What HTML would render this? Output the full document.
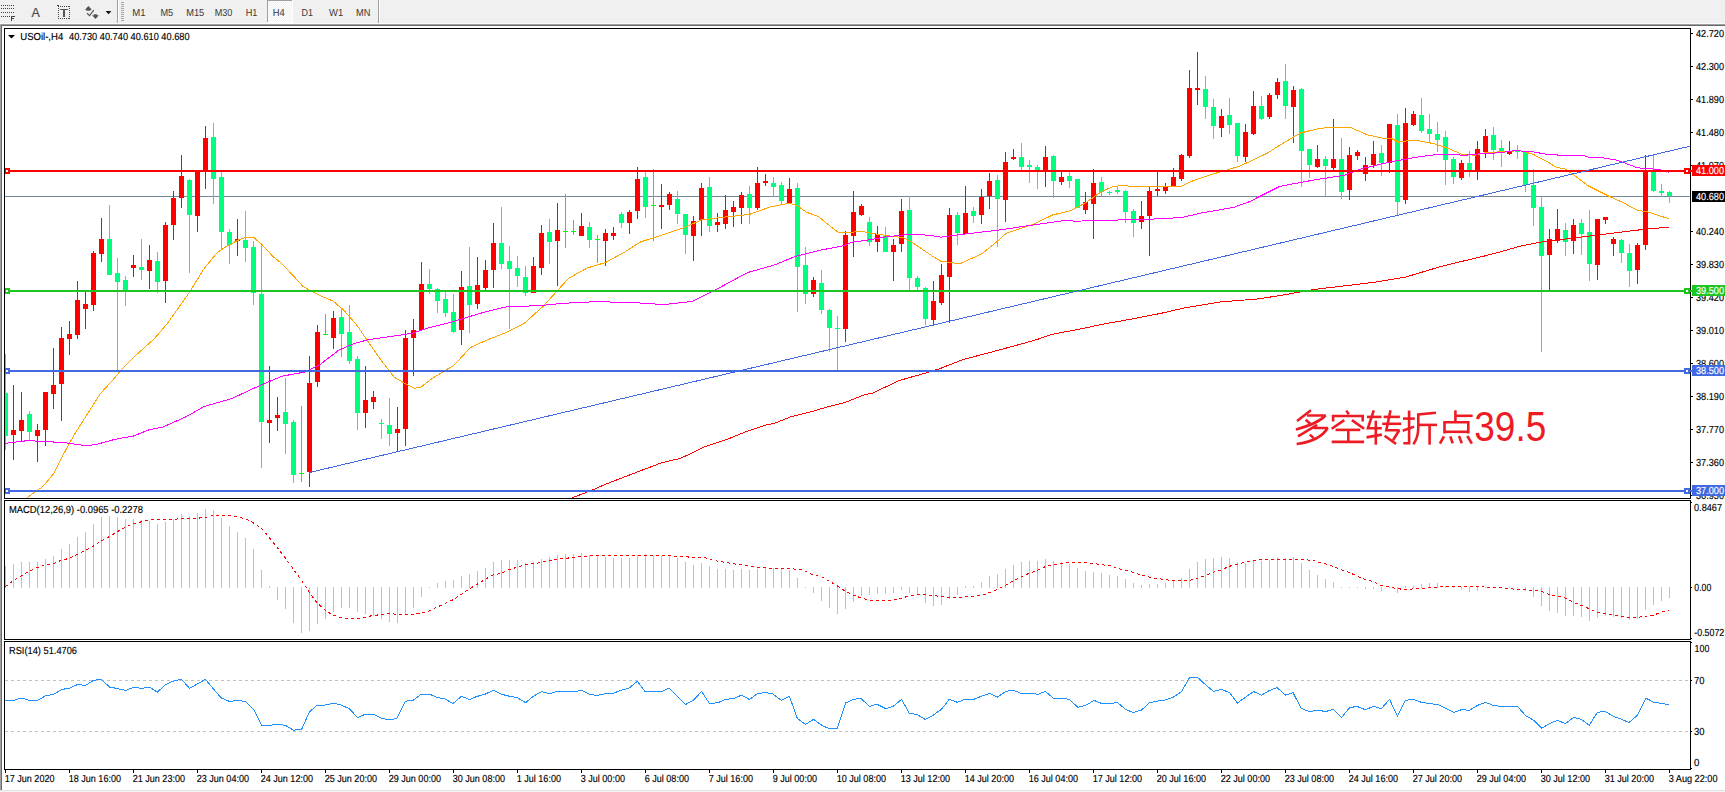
<!DOCTYPE html>
<html><head><meta charset="utf-8"><title>USOil H4</title>
<style>html,body{margin:0;padding:0;background:#fff;overflow:hidden}svg{display:block}text{font-family:"Liberation Sans",sans-serif}</style></head><body>
<svg width="1725" height="792" viewBox="0 0 1725 792">
<defs><pattern id="dz" width="2" height="2" patternUnits="userSpaceOnUse"><rect width="2" height="2" fill="#f0f0f0"/><rect width="1" height="1" fill="#fff"/><rect x="1" y="1" width="1" height="1" fill="#fff"/></pattern><clipPath id="cm"><rect x="5" y="29" width="1685" height="469"/></clipPath><clipPath id="cd"><rect x="5" y="501" width="1685" height="138"/></clipPath><clipPath id="cr"><rect x="5" y="642" width="1685" height="127"/></clipPath></defs>
<rect width="1725" height="792" fill="#fff"/>
<g shape-rendering="crispEdges">
<rect x="0" y="0" width="1725" height="23" fill="#f0f0f0"/>
<rect x="0" y="23" width="1725" height="1" fill="#fbfbfb"/>
<rect x="0" y="24" width="1725" height="1" fill="#a0a0a0"/>
<rect x="0" y="25" width="1725" height="1" fill="#696969"/>
<rect x="0" y="24" width="1" height="766" fill="#a0a0a0"/>
<rect x="1" y="25" width="1" height="765" fill="#696969"/>
<rect x="0" y="790" width="1725" height="1" fill="#e3e3e3"/>
<rect x="0" y="791" width="1725" height="1" fill="#f4f4f4"/>
<rect x="117" y="0" width="1" height="23" fill="#a0a0a0"/>
<rect x="118" y="0" width="1" height="23" fill="#ffffff"/>
<rect x="378" y="0" width="1" height="23" fill="#a0a0a0"/>
<rect x="379" y="0" width="1" height="23" fill="#ffffff"/>
<rect x="121" y="2" width="3" height="1" fill="#a8a8a8"/>
<rect x="121" y="4" width="3" height="1" fill="#a8a8a8"/>
<rect x="121" y="6" width="3" height="1" fill="#a8a8a8"/>
<rect x="121" y="8" width="3" height="1" fill="#a8a8a8"/>
<rect x="121" y="10" width="3" height="1" fill="#a8a8a8"/>
<rect x="121" y="12" width="3" height="1" fill="#a8a8a8"/>
<rect x="121" y="14" width="3" height="1" fill="#a8a8a8"/>
<rect x="121" y="16" width="3" height="1" fill="#a8a8a8"/>
<rect x="121" y="18" width="3" height="1" fill="#a8a8a8"/>
<rect x="121" y="20" width="3" height="1" fill="#a8a8a8"/>
<rect x="268" y="1" width="24" height="21" fill="url(#dz)"/>
<rect x="267" y="0" width="25" height="1" fill="#a0a0a0"/>
<rect x="267" y="0" width="1" height="22" fill="#a0a0a0"/>
<rect x="292" y="0" width="1" height="23" fill="#ffffff"/>
<rect x="267" y="22" width="26" height="1" fill="#ffffff"/>
</g>
<text x="132.2" y="16" font-size="10.2" fill="#3a3a3a" text-rendering="geometricPrecision" textLength="13.3" lengthAdjust="spacingAndGlyphs">M1</text>
<text x="160.4" y="16" font-size="10.2" fill="#3a3a3a" text-rendering="geometricPrecision" textLength="12.8" lengthAdjust="spacingAndGlyphs">M5</text>
<text x="186.2" y="16" font-size="10.2" fill="#3a3a3a" text-rendering="geometricPrecision" textLength="18.0" lengthAdjust="spacingAndGlyphs">M15</text>
<text x="214.7" y="16" font-size="10.2" fill="#3a3a3a" text-rendering="geometricPrecision" textLength="17.7" lengthAdjust="spacingAndGlyphs">M30</text>
<text x="245.7" y="16" font-size="10.2" fill="#3a3a3a" text-rendering="geometricPrecision" textLength="11.7" lengthAdjust="spacingAndGlyphs">H1</text>
<text x="272.8" y="16" font-size="10.2" fill="#3a3a3a" text-rendering="geometricPrecision" textLength="12.0" lengthAdjust="spacingAndGlyphs">H4</text>
<text x="301.6" y="16" font-size="10.2" fill="#3a3a3a" text-rendering="geometricPrecision" textLength="11.4" lengthAdjust="spacingAndGlyphs">D1</text>
<text x="329.1" y="16" font-size="10.2" fill="#3a3a3a" text-rendering="geometricPrecision" textLength="14.1" lengthAdjust="spacingAndGlyphs">W1</text>
<text x="356" y="16" font-size="10.2" fill="#3a3a3a" text-rendering="geometricPrecision" textLength="14.4" lengthAdjust="spacingAndGlyphs">MN</text>
<g shape-rendering="crispEdges">
<rect x="1" y="5" width="1" height="1" fill="#444"/>
<rect x="3" y="5" width="1" height="1" fill="#444"/>
<rect x="5" y="5" width="1" height="1" fill="#444"/>
<rect x="7" y="5" width="1" height="1" fill="#444"/>
<rect x="9" y="5" width="1" height="1" fill="#444"/>
<rect x="11" y="5" width="1" height="1" fill="#444"/>
<rect x="13" y="5" width="1" height="1" fill="#444"/>
<rect x="1" y="8" width="1" height="1" fill="#444"/>
<rect x="3" y="8" width="1" height="1" fill="#444"/>
<rect x="5" y="8" width="1" height="1" fill="#444"/>
<rect x="7" y="8" width="1" height="1" fill="#444"/>
<rect x="9" y="8" width="1" height="1" fill="#444"/>
<rect x="11" y="8" width="1" height="1" fill="#444"/>
<rect x="13" y="8" width="1" height="1" fill="#444"/>
<rect x="1" y="12" width="1" height="1" fill="#444"/>
<rect x="3" y="12" width="1" height="1" fill="#444"/>
<rect x="5" y="12" width="1" height="1" fill="#444"/>
<rect x="7" y="12" width="1" height="1" fill="#444"/>
<rect x="9" y="12" width="1" height="1" fill="#444"/>
<rect x="11" y="12" width="1" height="1" fill="#444"/>
<rect x="13" y="12" width="1" height="1" fill="#444"/>
<rect x="1" y="16" width="1" height="1" fill="#444"/>
<rect x="3" y="16" width="1" height="1" fill="#444"/>
<rect x="5" y="16" width="1" height="1" fill="#444"/>
<rect x="7" y="16" width="1" height="1" fill="#444"/>
<rect x="9" y="16" width="1" height="1" fill="#444"/>
<rect x="11" y="16" width="1" height="5" fill="#444"/>
<rect x="12" y="16" width="3" height="1" fill="#444"/>
<rect x="12" y="18" width="2" height="1" fill="#444"/>
</g>
<text x="31.4" y="17" font-size="12.5" fill="#4a4a4a" stroke="#4a4a4a" stroke-width="0.2">A</text>
<g shape-rendering="crispEdges">
<rect x="58" y="6" width="1" height="1" fill="#444"/>
<rect x="58" y="18" width="1" height="1" fill="#444"/>
<rect x="60" y="6" width="1" height="1" fill="#444"/>
<rect x="60" y="18" width="1" height="1" fill="#444"/>
<rect x="62" y="6" width="1" height="1" fill="#444"/>
<rect x="62" y="18" width="1" height="1" fill="#444"/>
<rect x="64" y="6" width="1" height="1" fill="#444"/>
<rect x="64" y="18" width="1" height="1" fill="#444"/>
<rect x="66" y="6" width="1" height="1" fill="#444"/>
<rect x="66" y="18" width="1" height="1" fill="#444"/>
<rect x="68" y="6" width="1" height="1" fill="#444"/>
<rect x="68" y="18" width="1" height="1" fill="#444"/>
<rect x="58" y="6" width="1" height="1" fill="#444"/>
<rect x="69" y="6" width="1" height="1" fill="#444"/>
<rect x="58" y="8" width="1" height="1" fill="#444"/>
<rect x="69" y="8" width="1" height="1" fill="#444"/>
<rect x="58" y="10" width="1" height="1" fill="#444"/>
<rect x="69" y="10" width="1" height="1" fill="#444"/>
<rect x="58" y="12" width="1" height="1" fill="#444"/>
<rect x="69" y="12" width="1" height="1" fill="#444"/>
<rect x="58" y="14" width="1" height="1" fill="#444"/>
<rect x="69" y="14" width="1" height="1" fill="#444"/>
<rect x="58" y="16" width="1" height="1" fill="#444"/>
<rect x="69" y="16" width="1" height="1" fill="#444"/>
<rect x="58" y="18" width="1" height="1" fill="#444"/>
<rect x="69" y="18" width="1" height="1" fill="#444"/>
<rect x="57" y="5" width="2" height="1" fill="#444"/>
<rect x="60" y="9" width="8" height="1" fill="#555"/>
<rect x="63" y="9" width="2" height="8" fill="#555"/>
</g>
<path d="M84.9 9.7 L88.4 6 L91.9 9.7 L90.5 9.7 L90.5 10.7 L86.3 10.7 L86.3 9.7 Z M92 15.2 L93.9 15.2 L93.9 14.2 L97 14.2 L97 15.2 L98.9 15.2 L95.5 18.9 Z" fill="#555"/>
<path d="M87.1 13.2 L89.6 15.6 L93.8 10.1" fill="none" stroke="#555" stroke-width="1.2"/>
<path d="M105.6 11 L111.4 11 L108.5 14.2 Z" fill="#111"/>
<g clip-path="url(#cm)" shape-rendering="crispEdges">
<rect x="5" y="196" width="1685" height="1" fill="#778899"/>
<rect x="5" y="354" width="1" height="96" fill="#00FF7F"/>
<rect x="3" y="393" width="5" height="43" fill="#00FF7F"/>
<rect x="13" y="385" width="1" height="75" fill="#FF0000"/>
<rect x="11" y="430" width="5" height="5" fill="#FF0000"/>
<rect x="21" y="392" width="1" height="49" fill="#FF0000"/>
<rect x="19" y="420" width="5" height="11" fill="#FF0000"/>
<rect x="29" y="411" width="1" height="29" fill="#00FF7F"/>
<rect x="27" y="414" width="5" height="18" fill="#00FF7F"/>
<rect x="37" y="424" width="1" height="38" fill="#FF0000"/>
<rect x="35" y="430" width="5" height="6" fill="#FF0000"/>
<rect x="45" y="392" width="1" height="54" fill="#FF0000"/>
<rect x="43" y="392" width="5" height="38" fill="#FF0000"/>
<rect x="53" y="348" width="1" height="61" fill="#FF0000"/>
<rect x="51" y="385" width="5" height="9" fill="#FF0000"/>
<rect x="61" y="327" width="1" height="94" fill="#FF0000"/>
<rect x="59" y="338" width="5" height="46" fill="#FF0000"/>
<rect x="69" y="321" width="1" height="34" fill="#FF0000"/>
<rect x="67" y="334" width="5" height="5" fill="#FF0000"/>
<rect x="77" y="281" width="1" height="58" fill="#FF0000"/>
<rect x="75" y="300" width="5" height="35" fill="#FF0000"/>
<rect x="85" y="292" width="1" height="37" fill="#FF0000"/>
<rect x="83" y="304" width="5" height="5" fill="#FF0000"/>
<rect x="93" y="251" width="1" height="60" fill="#FF0000"/>
<rect x="91" y="253" width="5" height="52" fill="#FF0000"/>
<rect x="101" y="218" width="1" height="44" fill="#FF0000"/>
<rect x="99" y="239" width="5" height="15" fill="#FF0000"/>
<rect x="109" y="205" width="1" height="70" fill="#00FF7F"/>
<rect x="107" y="239" width="5" height="36" fill="#00FF7F"/>
<rect x="117" y="258" width="1" height="112" fill="#00FF7F"/>
<rect x="115" y="273" width="5" height="9" fill="#00FF7F"/>
<rect x="125" y="276" width="1" height="30" fill="#00FF7F"/>
<rect x="123" y="280" width="5" height="10" fill="#00FF7F"/>
<rect x="133" y="255" width="1" height="22" fill="#FF0000"/>
<rect x="131" y="265" width="5" height="3" fill="#FF0000"/>
<rect x="141" y="239" width="1" height="41" fill="#00FF7F"/>
<rect x="139" y="267" width="5" height="3" fill="#00FF7F"/>
<rect x="149" y="245" width="1" height="44" fill="#FF0000"/>
<rect x="147" y="260" width="5" height="11" fill="#FF0000"/>
<rect x="157" y="252" width="1" height="41" fill="#00FF7F"/>
<rect x="155" y="261" width="5" height="21" fill="#00FF7F"/>
<rect x="165" y="222" width="1" height="81" fill="#FF0000"/>
<rect x="163" y="225" width="5" height="56" fill="#FF0000"/>
<rect x="173" y="191" width="1" height="49" fill="#FF0000"/>
<rect x="171" y="198" width="5" height="27" fill="#FF0000"/>
<rect x="181" y="155" width="1" height="53" fill="#FF0000"/>
<rect x="179" y="176" width="5" height="22" fill="#FF0000"/>
<rect x="189" y="179" width="1" height="94" fill="#00FF7F"/>
<rect x="187" y="180" width="5" height="35" fill="#00FF7F"/>
<rect x="197" y="171" width="1" height="61" fill="#FF0000"/>
<rect x="195" y="171" width="5" height="45" fill="#FF0000"/>
<rect x="205" y="126" width="1" height="63" fill="#FF0000"/>
<rect x="203" y="138" width="5" height="33" fill="#FF0000"/>
<rect x="213" y="123" width="1" height="81" fill="#00FF7F"/>
<rect x="211" y="137" width="5" height="42" fill="#00FF7F"/>
<rect x="221" y="172" width="1" height="77" fill="#00FF7F"/>
<rect x="219" y="177" width="5" height="55" fill="#00FF7F"/>
<rect x="229" y="229" width="1" height="35" fill="#00FF7F"/>
<rect x="227" y="232" width="5" height="13" fill="#00FF7F"/>
<rect x="237" y="219" width="1" height="37" fill="#FF0000"/>
<rect x="235" y="239" width="5" height="2" fill="#FF0000"/>
<rect x="245" y="211" width="1" height="51" fill="#00FF7F"/>
<rect x="243" y="240" width="5" height="8" fill="#00FF7F"/>
<rect x="253" y="241" width="1" height="64" fill="#00FF7F"/>
<rect x="251" y="247" width="5" height="46" fill="#00FF7F"/>
<rect x="261" y="243" width="1" height="225" fill="#00FF7F"/>
<rect x="259" y="294" width="5" height="128" fill="#00FF7F"/>
<rect x="269" y="366" width="1" height="77" fill="#FF0000"/>
<rect x="267" y="420" width="5" height="3" fill="#FF0000"/>
<rect x="277" y="397" width="1" height="34" fill="#FF0000"/>
<rect x="275" y="415" width="5" height="3" fill="#FF0000"/>
<rect x="285" y="378" width="1" height="76" fill="#00FF7F"/>
<rect x="283" y="412" width="5" height="12" fill="#00FF7F"/>
<rect x="293" y="420" width="1" height="63" fill="#00FF7F"/>
<rect x="291" y="422" width="5" height="53" fill="#00FF7F"/>
<rect x="301" y="406" width="1" height="76" fill="#00FF00"/>
<rect x="299" y="473" width="5" height="1" fill="#00FF00"/>
<rect x="309" y="356" width="1" height="131" fill="#FF0000"/>
<rect x="307" y="383" width="5" height="89" fill="#FF0000"/>
<rect x="317" y="325" width="1" height="62" fill="#FF0000"/>
<rect x="315" y="332" width="5" height="50" fill="#FF0000"/>
<rect x="325" y="314" width="1" height="20" fill="#00FF00"/>
<rect x="323" y="334" width="5" height="1" fill="#00FF00"/>
<rect x="333" y="311" width="1" height="38" fill="#FF0000"/>
<rect x="331" y="318" width="5" height="20" fill="#FF0000"/>
<rect x="341" y="309" width="1" height="48" fill="#00FF7F"/>
<rect x="339" y="317" width="5" height="17" fill="#00FF7F"/>
<rect x="349" y="305" width="1" height="59" fill="#00FF7F"/>
<rect x="347" y="332" width="5" height="29" fill="#00FF7F"/>
<rect x="357" y="356" width="1" height="74" fill="#00FF7F"/>
<rect x="355" y="359" width="5" height="54" fill="#00FF7F"/>
<rect x="365" y="366" width="1" height="62" fill="#FF0000"/>
<rect x="363" y="400" width="5" height="13" fill="#FF0000"/>
<rect x="373" y="391" width="1" height="18" fill="#FF0000"/>
<rect x="371" y="397" width="5" height="5" fill="#FF0000"/>
<rect x="381" y="419" width="1" height="20" fill="#00FF7F"/>
<rect x="379" y="423" width="5" height="1" fill="#00FF7F"/>
<rect x="389" y="398" width="1" height="48" fill="#00FF7F"/>
<rect x="387" y="425" width="5" height="9" fill="#00FF7F"/>
<rect x="397" y="407" width="1" height="44" fill="#FF0000"/>
<rect x="395" y="429" width="5" height="4" fill="#FF0000"/>
<rect x="405" y="330" width="1" height="116" fill="#FF0000"/>
<rect x="403" y="338" width="5" height="91" fill="#FF0000"/>
<rect x="413" y="319" width="1" height="57" fill="#FF0000"/>
<rect x="411" y="330" width="5" height="8" fill="#FF0000"/>
<rect x="421" y="262" width="1" height="68" fill="#FF0000"/>
<rect x="419" y="284" width="5" height="46" fill="#FF0000"/>
<rect x="429" y="269" width="1" height="25" fill="#00FF7F"/>
<rect x="427" y="284" width="5" height="5" fill="#00FF7F"/>
<rect x="437" y="288" width="1" height="25" fill="#00FF7F"/>
<rect x="435" y="289" width="5" height="12" fill="#00FF7F"/>
<rect x="445" y="292" width="1" height="25" fill="#00FF7F"/>
<rect x="443" y="299" width="5" height="14" fill="#00FF7F"/>
<rect x="453" y="294" width="1" height="39" fill="#00FF7F"/>
<rect x="451" y="312" width="5" height="20" fill="#00FF7F"/>
<rect x="461" y="271" width="1" height="74" fill="#FF0000"/>
<rect x="459" y="287" width="5" height="43" fill="#FF0000"/>
<rect x="469" y="247" width="1" height="86" fill="#00FF7F"/>
<rect x="467" y="286" width="5" height="19" fill="#00FF7F"/>
<rect x="477" y="257" width="1" height="52" fill="#FF0000"/>
<rect x="475" y="285" width="5" height="19" fill="#FF0000"/>
<rect x="485" y="260" width="1" height="30" fill="#FF0000"/>
<rect x="483" y="270" width="5" height="18" fill="#FF0000"/>
<rect x="493" y="223" width="1" height="65" fill="#FF0000"/>
<rect x="491" y="243" width="5" height="27" fill="#FF0000"/>
<rect x="501" y="207" width="1" height="62" fill="#00FF7F"/>
<rect x="499" y="243" width="5" height="21" fill="#00FF7F"/>
<rect x="509" y="246" width="1" height="83" fill="#00FF7F"/>
<rect x="507" y="261" width="5" height="8" fill="#00FF7F"/>
<rect x="517" y="256" width="1" height="31" fill="#00FF7F"/>
<rect x="515" y="268" width="5" height="8" fill="#00FF7F"/>
<rect x="525" y="266" width="1" height="30" fill="#00FF7F"/>
<rect x="523" y="277" width="5" height="16" fill="#00FF7F"/>
<rect x="533" y="257" width="1" height="36" fill="#FF0000"/>
<rect x="531" y="266" width="5" height="27" fill="#FF0000"/>
<rect x="541" y="225" width="1" height="50" fill="#FF0000"/>
<rect x="539" y="233" width="5" height="35" fill="#FF0000"/>
<rect x="549" y="219" width="1" height="45" fill="#00FF7F"/>
<rect x="547" y="232" width="5" height="10" fill="#00FF7F"/>
<rect x="557" y="203" width="1" height="83" fill="#FF0000"/>
<rect x="555" y="230" width="5" height="11" fill="#FF0000"/>
<rect x="565" y="194" width="1" height="54" fill="#00FF00"/>
<rect x="563" y="231" width="5" height="1" fill="#00FF00"/>
<rect x="573" y="220" width="1" height="15" fill="#00FF00"/>
<rect x="571" y="231" width="5" height="1" fill="#00FF00"/>
<rect x="581" y="213" width="1" height="23" fill="#FF0000"/>
<rect x="579" y="226" width="5" height="10" fill="#FF0000"/>
<rect x="589" y="222" width="1" height="26" fill="#00FF7F"/>
<rect x="587" y="227" width="5" height="13" fill="#00FF7F"/>
<rect x="597" y="235" width="1" height="28" fill="#00FF00"/>
<rect x="595" y="239" width="5" height="1" fill="#00FF00"/>
<rect x="605" y="229" width="1" height="37" fill="#FF0000"/>
<rect x="603" y="233" width="5" height="8" fill="#FF0000"/>
<rect x="613" y="227" width="1" height="13" fill="#FF0000"/>
<rect x="611" y="233" width="5" height="3" fill="#FF0000"/>
<rect x="621" y="212" width="1" height="16" fill="#00FF7F"/>
<rect x="619" y="214" width="5" height="9" fill="#00FF7F"/>
<rect x="629" y="210" width="1" height="24" fill="#FF0000"/>
<rect x="627" y="212" width="5" height="11" fill="#FF0000"/>
<rect x="637" y="167" width="1" height="52" fill="#FF0000"/>
<rect x="635" y="179" width="5" height="32" fill="#FF0000"/>
<rect x="645" y="172" width="1" height="46" fill="#00FF7F"/>
<rect x="643" y="177" width="5" height="30" fill="#00FF7F"/>
<rect x="653" y="169" width="1" height="72" fill="#00FF00"/>
<rect x="651" y="205" width="5" height="1" fill="#00FF00"/>
<rect x="661" y="184" width="1" height="45" fill="#FF0000"/>
<rect x="659" y="205" width="5" height="2" fill="#FF0000"/>
<rect x="669" y="192" width="1" height="18" fill="#FF0000"/>
<rect x="667" y="194" width="5" height="11" fill="#FF0000"/>
<rect x="677" y="191" width="1" height="33" fill="#00FF7F"/>
<rect x="675" y="199" width="5" height="15" fill="#00FF7F"/>
<rect x="685" y="214" width="1" height="40" fill="#00FF7F"/>
<rect x="683" y="214" width="5" height="21" fill="#00FF7F"/>
<rect x="693" y="216" width="1" height="45" fill="#FF0000"/>
<rect x="691" y="221" width="5" height="15" fill="#FF0000"/>
<rect x="701" y="183" width="1" height="53" fill="#FF0000"/>
<rect x="699" y="188" width="5" height="32" fill="#FF0000"/>
<rect x="709" y="177" width="1" height="55" fill="#00FF7F"/>
<rect x="707" y="187" width="5" height="39" fill="#00FF7F"/>
<rect x="717" y="213" width="1" height="19" fill="#FF0000"/>
<rect x="715" y="222" width="5" height="3" fill="#FF0000"/>
<rect x="725" y="195" width="1" height="34" fill="#FF0000"/>
<rect x="723" y="210" width="5" height="14" fill="#FF0000"/>
<rect x="733" y="201" width="1" height="26" fill="#FF0000"/>
<rect x="731" y="207" width="5" height="5" fill="#FF0000"/>
<rect x="741" y="192" width="1" height="32" fill="#FF0000"/>
<rect x="739" y="195" width="5" height="13" fill="#FF0000"/>
<rect x="749" y="186" width="1" height="38" fill="#00FF7F"/>
<rect x="747" y="194" width="5" height="14" fill="#00FF7F"/>
<rect x="757" y="167" width="1" height="43" fill="#FF0000"/>
<rect x="755" y="183" width="5" height="25" fill="#FF0000"/>
<rect x="765" y="174" width="1" height="12" fill="#FF0000"/>
<rect x="763" y="181" width="5" height="2" fill="#FF0000"/>
<rect x="773" y="177" width="1" height="20" fill="#00FF7F"/>
<rect x="771" y="183" width="5" height="4" fill="#00FF7F"/>
<rect x="781" y="182" width="1" height="22" fill="#00FF7F"/>
<rect x="779" y="185" width="5" height="16" fill="#00FF7F"/>
<rect x="789" y="178" width="1" height="25" fill="#FF0000"/>
<rect x="787" y="189" width="5" height="14" fill="#FF0000"/>
<rect x="797" y="183" width="1" height="129" fill="#00FF7F"/>
<rect x="795" y="188" width="5" height="79" fill="#00FF7F"/>
<rect x="805" y="247" width="1" height="57" fill="#00FF7F"/>
<rect x="803" y="265" width="5" height="29" fill="#00FF7F"/>
<rect x="813" y="277" width="1" height="20" fill="#FF0000"/>
<rect x="811" y="280" width="5" height="14" fill="#FF0000"/>
<rect x="821" y="270" width="1" height="44" fill="#00FF7F"/>
<rect x="819" y="283" width="5" height="27" fill="#00FF7F"/>
<rect x="829" y="309" width="1" height="43" fill="#00FF7F"/>
<rect x="827" y="310" width="5" height="18" fill="#00FF7F"/>
<rect x="837" y="316" width="1" height="54" fill="#00FF7F"/>
<rect x="835" y="328" width="5" height="1" fill="#00FF7F"/>
<rect x="845" y="231" width="1" height="111" fill="#FF0000"/>
<rect x="843" y="235" width="5" height="94" fill="#FF0000"/>
<rect x="853" y="191" width="1" height="66" fill="#FF0000"/>
<rect x="851" y="212" width="5" height="24" fill="#FF0000"/>
<rect x="861" y="204" width="1" height="12" fill="#FF0000"/>
<rect x="859" y="206" width="5" height="9" fill="#FF0000"/>
<rect x="869" y="217" width="1" height="29" fill="#00FF7F"/>
<rect x="867" y="222" width="5" height="20" fill="#00FF7F"/>
<rect x="877" y="226" width="1" height="26" fill="#FF0000"/>
<rect x="875" y="234" width="5" height="8" fill="#FF0000"/>
<rect x="885" y="227" width="1" height="25" fill="#00FF7F"/>
<rect x="883" y="236" width="5" height="16" fill="#00FF7F"/>
<rect x="893" y="239" width="1" height="42" fill="#FF0000"/>
<rect x="891" y="245" width="5" height="7" fill="#FF0000"/>
<rect x="901" y="199" width="1" height="53" fill="#FF0000"/>
<rect x="899" y="211" width="5" height="33" fill="#FF0000"/>
<rect x="909" y="196" width="1" height="94" fill="#00FF7F"/>
<rect x="907" y="210" width="5" height="68" fill="#00FF7F"/>
<rect x="917" y="276" width="1" height="14" fill="#00FF7F"/>
<rect x="915" y="278" width="5" height="9" fill="#00FF7F"/>
<rect x="925" y="287" width="1" height="38" fill="#00FF7F"/>
<rect x="923" y="288" width="5" height="31" fill="#00FF7F"/>
<rect x="933" y="281" width="1" height="45" fill="#FF0000"/>
<rect x="931" y="301" width="5" height="19" fill="#FF0000"/>
<rect x="941" y="264" width="1" height="41" fill="#FF0000"/>
<rect x="939" y="275" width="5" height="28" fill="#FF0000"/>
<rect x="949" y="208" width="1" height="115" fill="#FF0000"/>
<rect x="947" y="215" width="5" height="62" fill="#FF0000"/>
<rect x="957" y="212" width="1" height="33" fill="#00FF7F"/>
<rect x="955" y="215" width="5" height="18" fill="#00FF7F"/>
<rect x="965" y="186" width="1" height="48" fill="#FF0000"/>
<rect x="963" y="213" width="5" height="21" fill="#FF0000"/>
<rect x="973" y="207" width="1" height="16" fill="#00FF7F"/>
<rect x="971" y="211" width="5" height="5" fill="#00FF7F"/>
<rect x="981" y="189" width="1" height="35" fill="#FF0000"/>
<rect x="979" y="197" width="5" height="18" fill="#FF0000"/>
<rect x="989" y="173" width="1" height="36" fill="#FF0000"/>
<rect x="987" y="181" width="5" height="15" fill="#FF0000"/>
<rect x="997" y="175" width="1" height="72" fill="#00FF7F"/>
<rect x="995" y="180" width="5" height="19" fill="#00FF7F"/>
<rect x="1005" y="152" width="1" height="70" fill="#FF0000"/>
<rect x="1003" y="162" width="5" height="38" fill="#FF0000"/>
<rect x="1013" y="149" width="1" height="11" fill="#FF0000"/>
<rect x="1011" y="157" width="5" height="2" fill="#FF0000"/>
<rect x="1021" y="143" width="1" height="27" fill="#00FF7F"/>
<rect x="1019" y="157" width="5" height="10" fill="#00FF7F"/>
<rect x="1029" y="160" width="1" height="23" fill="#00FF7F"/>
<rect x="1027" y="165" width="5" height="2" fill="#00FF7F"/>
<rect x="1037" y="165" width="1" height="24" fill="#00FF7F"/>
<rect x="1035" y="167" width="5" height="4" fill="#00FF7F"/>
<rect x="1045" y="146" width="1" height="41" fill="#FF0000"/>
<rect x="1043" y="157" width="5" height="14" fill="#FF0000"/>
<rect x="1053" y="155" width="1" height="43" fill="#00FF7F"/>
<rect x="1051" y="156" width="5" height="25" fill="#00FF7F"/>
<rect x="1061" y="172" width="1" height="13" fill="#FF0000"/>
<rect x="1059" y="177" width="5" height="5" fill="#FF0000"/>
<rect x="1069" y="172" width="1" height="16" fill="#00FF7F"/>
<rect x="1067" y="176" width="5" height="5" fill="#00FF7F"/>
<rect x="1077" y="179" width="1" height="29" fill="#00FF7F"/>
<rect x="1075" y="179" width="5" height="29" fill="#00FF7F"/>
<rect x="1085" y="192" width="1" height="22" fill="#FF0000"/>
<rect x="1083" y="202" width="5" height="8" fill="#FF0000"/>
<rect x="1093" y="169" width="1" height="70" fill="#FF0000"/>
<rect x="1091" y="183" width="5" height="21" fill="#FF0000"/>
<rect x="1101" y="177" width="1" height="19" fill="#00FF7F"/>
<rect x="1099" y="182" width="5" height="10" fill="#00FF7F"/>
<rect x="1109" y="191" width="1" height="4" fill="#00FF7F"/>
<rect x="1107" y="192" width="5" height="1" fill="#00FF7F"/>
<rect x="1117" y="187" width="1" height="7" fill="#00FF7F"/>
<rect x="1115" y="190" width="5" height="2" fill="#00FF7F"/>
<rect x="1125" y="190" width="1" height="33" fill="#00FF7F"/>
<rect x="1123" y="191" width="5" height="21" fill="#00FF7F"/>
<rect x="1133" y="209" width="1" height="28" fill="#00FF7F"/>
<rect x="1131" y="211" width="5" height="12" fill="#00FF7F"/>
<rect x="1141" y="201" width="1" height="28" fill="#FF0000"/>
<rect x="1139" y="216" width="5" height="6" fill="#FF0000"/>
<rect x="1149" y="187" width="1" height="69" fill="#FF0000"/>
<rect x="1147" y="191" width="5" height="25" fill="#FF0000"/>
<rect x="1157" y="171" width="1" height="25" fill="#FF0000"/>
<rect x="1155" y="189" width="5" height="2" fill="#FF0000"/>
<rect x="1165" y="183" width="1" height="11" fill="#FF0000"/>
<rect x="1163" y="187" width="5" height="4" fill="#FF0000"/>
<rect x="1173" y="168" width="1" height="19" fill="#FF0000"/>
<rect x="1171" y="177" width="5" height="10" fill="#FF0000"/>
<rect x="1181" y="154" width="1" height="27" fill="#FF0000"/>
<rect x="1179" y="155" width="5" height="24" fill="#FF0000"/>
<rect x="1189" y="70" width="1" height="88" fill="#FF0000"/>
<rect x="1187" y="88" width="5" height="68" fill="#FF0000"/>
<rect x="1197" y="52" width="1" height="53" fill="#FF0000"/>
<rect x="1195" y="88" width="5" height="2" fill="#FF0000"/>
<rect x="1205" y="76" width="1" height="43" fill="#00FF7F"/>
<rect x="1203" y="89" width="5" height="18" fill="#00FF7F"/>
<rect x="1213" y="99" width="1" height="40" fill="#00FF7F"/>
<rect x="1211" y="107" width="5" height="19" fill="#00FF7F"/>
<rect x="1221" y="109" width="1" height="28" fill="#FF0000"/>
<rect x="1219" y="116" width="5" height="12" fill="#FF0000"/>
<rect x="1229" y="98" width="1" height="36" fill="#00FF7F"/>
<rect x="1227" y="115" width="5" height="10" fill="#00FF7F"/>
<rect x="1237" y="123" width="1" height="39" fill="#00FF7F"/>
<rect x="1235" y="123" width="5" height="33" fill="#00FF7F"/>
<rect x="1245" y="124" width="1" height="38" fill="#FF0000"/>
<rect x="1243" y="132" width="5" height="25" fill="#FF0000"/>
<rect x="1253" y="91" width="1" height="44" fill="#FF0000"/>
<rect x="1251" y="106" width="5" height="28" fill="#FF0000"/>
<rect x="1261" y="96" width="1" height="24" fill="#00FF7F"/>
<rect x="1259" y="106" width="5" height="13" fill="#00FF7F"/>
<rect x="1269" y="93" width="1" height="26" fill="#FF0000"/>
<rect x="1267" y="95" width="5" height="22" fill="#FF0000"/>
<rect x="1277" y="78" width="1" height="21" fill="#FF0000"/>
<rect x="1275" y="82" width="5" height="13" fill="#FF0000"/>
<rect x="1285" y="64" width="1" height="55" fill="#00FF7F"/>
<rect x="1283" y="81" width="5" height="25" fill="#00FF7F"/>
<rect x="1293" y="86" width="1" height="57" fill="#FF0000"/>
<rect x="1291" y="90" width="5" height="17" fill="#FF0000"/>
<rect x="1301" y="88" width="1" height="99" fill="#00FF7F"/>
<rect x="1299" y="89" width="5" height="62" fill="#00FF7F"/>
<rect x="1309" y="149" width="1" height="29" fill="#00FF7F"/>
<rect x="1307" y="149" width="5" height="16" fill="#00FF7F"/>
<rect x="1317" y="145" width="1" height="23" fill="#FF0000"/>
<rect x="1315" y="159" width="5" height="8" fill="#FF0000"/>
<rect x="1325" y="156" width="1" height="40" fill="#00FF7F"/>
<rect x="1323" y="159" width="5" height="7" fill="#00FF7F"/>
<rect x="1333" y="119" width="1" height="51" fill="#FF0000"/>
<rect x="1331" y="159" width="5" height="9" fill="#FF0000"/>
<rect x="1341" y="138" width="1" height="61" fill="#00FF7F"/>
<rect x="1339" y="159" width="5" height="33" fill="#00FF7F"/>
<rect x="1349" y="147" width="1" height="53" fill="#FF0000"/>
<rect x="1347" y="155" width="5" height="35" fill="#FF0000"/>
<rect x="1357" y="150" width="1" height="10" fill="#FF0000"/>
<rect x="1355" y="152" width="5" height="4" fill="#FF0000"/>
<rect x="1365" y="157" width="1" height="24" fill="#FF0000"/>
<rect x="1363" y="165" width="5" height="9" fill="#FF0000"/>
<rect x="1373" y="141" width="1" height="27" fill="#FF0000"/>
<rect x="1371" y="154" width="5" height="11" fill="#FF0000"/>
<rect x="1381" y="145" width="1" height="31" fill="#00FF7F"/>
<rect x="1379" y="153" width="5" height="10" fill="#00FF7F"/>
<rect x="1389" y="124" width="1" height="49" fill="#FF0000"/>
<rect x="1387" y="124" width="5" height="39" fill="#FF0000"/>
<rect x="1397" y="114" width="1" height="101" fill="#00FF7F"/>
<rect x="1395" y="125" width="5" height="77" fill="#00FF7F"/>
<rect x="1405" y="108" width="1" height="96" fill="#FF0000"/>
<rect x="1403" y="123" width="5" height="77" fill="#FF0000"/>
<rect x="1413" y="111" width="1" height="15" fill="#FF0000"/>
<rect x="1411" y="114" width="5" height="11" fill="#FF0000"/>
<rect x="1421" y="98" width="1" height="35" fill="#00FF7F"/>
<rect x="1419" y="115" width="5" height="16" fill="#00FF7F"/>
<rect x="1429" y="114" width="1" height="28" fill="#00FF7F"/>
<rect x="1427" y="129" width="5" height="5" fill="#00FF7F"/>
<rect x="1437" y="122" width="1" height="30" fill="#00FF7F"/>
<rect x="1435" y="134" width="5" height="6" fill="#00FF7F"/>
<rect x="1445" y="131" width="1" height="54" fill="#00FF7F"/>
<rect x="1443" y="137" width="5" height="23" fill="#00FF7F"/>
<rect x="1453" y="157" width="1" height="27" fill="#00FF7F"/>
<rect x="1451" y="159" width="5" height="18" fill="#00FF7F"/>
<rect x="1461" y="160" width="1" height="20" fill="#FF0000"/>
<rect x="1459" y="163" width="5" height="15" fill="#FF0000"/>
<rect x="1469" y="151" width="1" height="26" fill="#00FF7F"/>
<rect x="1467" y="163" width="5" height="8" fill="#00FF7F"/>
<rect x="1477" y="141" width="1" height="39" fill="#FF0000"/>
<rect x="1475" y="149" width="5" height="22" fill="#FF0000"/>
<rect x="1485" y="129" width="1" height="29" fill="#FF0000"/>
<rect x="1483" y="136" width="5" height="16" fill="#FF0000"/>
<rect x="1493" y="127" width="1" height="33" fill="#00FF7F"/>
<rect x="1491" y="135" width="5" height="15" fill="#00FF7F"/>
<rect x="1501" y="140" width="1" height="27" fill="#00FF7F"/>
<rect x="1499" y="148" width="5" height="4" fill="#00FF7F"/>
<rect x="1509" y="141" width="1" height="14" fill="#FF0000"/>
<rect x="1507" y="151" width="5" height="3" fill="#FF0000"/>
<rect x="1517" y="145" width="1" height="14" fill="#00FF7F"/>
<rect x="1515" y="150" width="5" height="2" fill="#00FF7F"/>
<rect x="1525" y="151" width="1" height="41" fill="#00FF7F"/>
<rect x="1523" y="152" width="5" height="33" fill="#00FF7F"/>
<rect x="1533" y="169" width="1" height="57" fill="#00FF7F"/>
<rect x="1531" y="185" width="5" height="23" fill="#00FF7F"/>
<rect x="1541" y="197" width="1" height="155" fill="#00FF7F"/>
<rect x="1539" y="207" width="5" height="49" fill="#00FF7F"/>
<rect x="1549" y="229" width="1" height="61" fill="#FF0000"/>
<rect x="1547" y="239" width="5" height="16" fill="#FF0000"/>
<rect x="1557" y="209" width="1" height="34" fill="#FF0000"/>
<rect x="1555" y="229" width="5" height="12" fill="#FF0000"/>
<rect x="1565" y="223" width="1" height="33" fill="#00FF7F"/>
<rect x="1563" y="230" width="5" height="12" fill="#00FF7F"/>
<rect x="1573" y="219" width="1" height="35" fill="#FF0000"/>
<rect x="1571" y="225" width="5" height="16" fill="#FF0000"/>
<rect x="1581" y="219" width="1" height="36" fill="#00FF7F"/>
<rect x="1579" y="223" width="5" height="11" fill="#00FF7F"/>
<rect x="1589" y="210" width="1" height="71" fill="#00FF7F"/>
<rect x="1587" y="232" width="5" height="32" fill="#00FF7F"/>
<rect x="1597" y="219" width="1" height="61" fill="#FF0000"/>
<rect x="1595" y="219" width="5" height="46" fill="#FF0000"/>
<rect x="1605" y="217" width="1" height="7" fill="#FF0000"/>
<rect x="1603" y="217" width="5" height="3" fill="#FF0000"/>
<rect x="1613" y="237" width="1" height="19" fill="#FF0000"/>
<rect x="1611" y="239" width="5" height="5" fill="#FF0000"/>
<rect x="1621" y="239" width="1" height="24" fill="#00FF7F"/>
<rect x="1619" y="240" width="5" height="13" fill="#00FF7F"/>
<rect x="1629" y="244" width="1" height="43" fill="#00FF7F"/>
<rect x="1627" y="253" width="5" height="18" fill="#00FF7F"/>
<rect x="1637" y="243" width="1" height="41" fill="#FF0000"/>
<rect x="1635" y="245" width="5" height="25" fill="#FF0000"/>
<rect x="1645" y="155" width="1" height="95" fill="#FF0000"/>
<rect x="1643" y="170" width="5" height="75" fill="#FF0000"/>
<rect x="1653" y="154" width="1" height="38" fill="#00FF7F"/>
<rect x="1651" y="170" width="5" height="21" fill="#00FF7F"/>
<rect x="1661" y="184" width="1" height="13" fill="#00FF7F"/>
<rect x="1659" y="191" width="5" height="2" fill="#00FF7F"/>
<rect x="1669" y="191" width="1" height="12" fill="#00FF7F"/>
<rect x="1667" y="192" width="5" height="4" fill="#00FF7F"/>
<polyline points="26.9,497.8 42.7,486.6 53.8,473.6 64.0,453.2 74.2,434.7 87.2,414.3 100.2,393.8 111.4,381.6 121.6,369.6 135.5,355.6 154.0,339.0 167.0,324.0 189.3,292.5 204.2,268.4 217.2,252.6 228.3,245.2 239.4,239.6 246.9,237.2 253.4,237.2 261.7,244.3 272.8,256.3 282.0,263.8 295.0,277.7 302.6,286.0 311.8,291.6 320.0,295.6 333.0,301.0 344.0,310.4 357.0,325.3 368.3,342.0 381.3,360.5 394.2,377.2 405.4,383.7 414.7,388.4 421.2,386.9 431.4,379.0 446.2,369.8 453.6,365.7 470.3,347.5 487.0,340.0 505.6,332.7 524.2,323.4 537.2,311.6 542.7,306.7 555.7,292.5 568.7,278.2 587.3,268.0 605.8,262.4 624.4,252.2 640.0,242.2 662.3,234.8 684.5,227.4 701.3,220.0 723.5,217.2 749.5,214.4 770.0,207.0 788.5,203.3 796.0,205.0 807.0,212.5 818.2,216.3 829.3,225.5 837.7,232.0 846.0,233.0 860.9,231.1 870.2,233.0 886.9,235.7 903.6,237.6 914.7,244.1 929.6,254.3 940.7,261.2 951.8,262.7 960.0,263.7 982.3,253.5 997.1,241.5 1006.4,233.1 1019.4,229.0 1034.2,223.8 1052.8,214.9 1071.4,210.5 1086.2,202.5 1101.0,191.9 1112.2,187.0 1123.3,185.2 1130.8,186.6 1180.9,186.6 1192.0,181.2 1206.9,175.9 1219.9,172.0 1238.4,166.6 1253.3,160.0 1268.1,152.7 1280.0,145.0 1300.4,133.0 1317.1,128.9 1332.0,127.0 1349.6,127.0 1367.2,134.8 1383.9,138.5 1391.4,138.5 1398.8,142.2 1409.9,140.4 1419.2,140.8 1434.1,143.7 1447.0,147.8 1461.9,154.3 1474.9,155.2 1486.0,152.4 1502.7,151.8 1519.6,150.6 1532.6,154.1 1545.7,160.7 1556.1,167.2 1565.2,169.1 1573.0,174.3 1588.7,186.1 1610.9,197.2 1623.9,203.0 1637.0,210.2 1647.4,211.9 1656.5,214.8 1669.0,218.7" fill="none" stroke="#FFA500" stroke-width="1" />
<polyline points="5.0,443.4 27.8,440.6 48.3,441.7 65.0,442.7 83.5,445.3 94.7,444.9 115.0,439.3 133.6,436.0 148.5,430.0 163.3,426.9 185.6,417.0 204.2,406.5 232.0,398.5 259.9,385.5 282.0,376.2 304.4,372.1 320.0,364.6 338.6,350.3 353.4,343.8 368.3,339.7 398.0,335.5 412.8,333.0 427.7,328.0 450.0,322.5 468.5,316.9 487.0,311.4 505.6,307.0 542.7,305.4 561.3,303.4 589.0,302.0 607.7,301.2 611.4,302.5 640.0,303.0 664.0,304.6 692.0,301.4 718.0,288.5 747.7,272.5 773.6,265.3 795.9,256.2 818.2,250.6 844.2,245.6 851.6,242.2 868.3,240.0 886.9,236.7 909.1,234.4 929.6,235.2 940.7,237.2 960.0,234.6 997.1,230.3 1034.2,224.8 1067.7,220.0 1075.0,221.4 1090.0,220.5 1136.3,219.7 1164.2,218.6 1182.7,217.3 1201.3,213.0 1219.9,209.9 1234.7,207.0 1249.6,201.6 1264.4,194.0 1280.0,186.3 1317.1,179.4 1343.1,175.6 1363.5,168.2 1391.4,161.7 1417.4,157.1 1437.8,154.3 1465.6,155.2 1484.2,153.4 1500.0,152.8 1513.0,150.9 1528.7,151.1 1545.7,154.1 1562.6,155.4 1583.5,155.4 1588.7,157.4 1601.7,157.7 1617.4,160.3 1637.0,167.6 1647.4,168.9 1657.8,169.1 1669.0,172.4" fill="none" stroke="#FF00FF" stroke-width="1" />
<polyline points="572.1,497.8 591.5,490.4 606.4,483.9 637.9,471.8 662.0,462.6 678.7,458.8 689.9,454.2 704.7,446.8 727.0,439.4 745.5,431.9 764.1,425.5 775.2,423.0 790.0,417.1 812.3,411.5 825.3,407.5 845.7,402.3 864.3,394.8 872.0,393.3 899.9,380.3 929.6,371.9 940.0,368.6 963.7,359.3 983.1,354.3 1015.1,345.7 1037.4,339.4 1051.3,334.5 1079.1,329.2 1107.0,323.4 1134.8,318.5 1162.6,313.0 1182.7,308.3 1219.9,302.0 1257.0,299.0 1280.0,295.6 1313.4,289.5 1345.0,285.8 1376.5,282.0 1406.2,276.9 1443.3,265.8 1484.2,256.1 1500.0,251.9 1519.6,246.3 1539.1,242.4 1565.2,239.1 1591.3,235.9 1617.4,232.6 1643.5,229.4 1669.0,227.1" fill="none" stroke="#FF0000" stroke-width="1" />
</g>
<g shape-rendering="crispEdges">
<rect x="5" y="170" width="1685" height="2" fill="#FF0000"/>
<rect x="4" y="168" width="6" height="6" fill="#FF0000"/>
<rect x="6" y="170" width="2" height="2" fill="#fff"/>
<rect x="1684" y="168" width="6" height="6" fill="#FF0000"/>
<rect x="1686" y="170" width="2" height="2" fill="#fff"/>
<rect x="5" y="290" width="1685" height="2" fill="#1FC51F"/>
<rect x="4" y="288" width="6" height="6" fill="#1FC51F"/>
<rect x="6" y="290" width="2" height="2" fill="#fff"/>
<rect x="1684" y="288" width="6" height="6" fill="#1FC51F"/>
<rect x="1686" y="290" width="2" height="2" fill="#fff"/>
<rect x="5" y="370" width="1685" height="2" fill="#4169E1"/>
<rect x="4" y="368" width="6" height="6" fill="#4169E1"/>
<rect x="6" y="370" width="2" height="2" fill="#fff"/>
<rect x="1684" y="368" width="6" height="6" fill="#4169E1"/>
<rect x="1686" y="370" width="2" height="2" fill="#fff"/>
<rect x="5" y="490" width="1685" height="2" fill="#4169E1"/>
<rect x="4" y="488" width="6" height="6" fill="#4169E1"/>
<rect x="6" y="490" width="2" height="2" fill="#fff"/>
<rect x="1684" y="488" width="6" height="6" fill="#4169E1"/>
<rect x="1686" y="490" width="2" height="2" fill="#fff"/>
<line x1="309.5" y1="472.5" x2="1690" y2="146.2" stroke="#4169E1" stroke-width="1"/>
<rect x="4" y="28" width="1687" height="1" fill="#000"/>
<rect x="4" y="498" width="1687" height="1" fill="#000"/>
<rect x="4" y="28" width="1" height="471" fill="#000"/>
<rect x="1690" y="28" width="1" height="471" fill="#000"/>
<rect x="4" y="500" width="1687" height="1" fill="#000"/>
<rect x="4" y="639" width="1687" height="1" fill="#000"/>
<rect x="4" y="500" width="1" height="140" fill="#000"/>
<rect x="1690" y="500" width="1" height="140" fill="#000"/>
<rect x="4" y="641" width="1687" height="1" fill="#000"/>
<rect x="4" y="769" width="1687" height="1" fill="#000"/>
<rect x="4" y="641" width="1" height="129" fill="#000"/>
<rect x="1690" y="641" width="1" height="129" fill="#000"/>
<rect x="1690" y="170" width="2" height="2" fill="#FF0000"/>
<rect x="1690" y="290" width="2" height="2" fill="#1FC51F"/>
<rect x="1690" y="370" width="2" height="2" fill="#4169E1"/>
<rect x="1690" y="490" width="2" height="2" fill="#4169E1"/>
</g>
<g clip-path="url(#cd)" shape-rendering="crispEdges">
<rect x="5" y="566" width="1" height="22" fill="#c0c0c0"/>
<rect x="13" y="564" width="1" height="24" fill="#c0c0c0"/>
<rect x="21" y="562" width="1" height="26" fill="#c0c0c0"/>
<rect x="29" y="562" width="1" height="26" fill="#c0c0c0"/>
<rect x="37" y="562" width="1" height="26" fill="#c0c0c0"/>
<rect x="45" y="559" width="1" height="29" fill="#c0c0c0"/>
<rect x="53" y="556" width="1" height="32" fill="#c0c0c0"/>
<rect x="61" y="549" width="1" height="39" fill="#c0c0c0"/>
<rect x="69" y="544" width="1" height="44" fill="#c0c0c0"/>
<rect x="77" y="537" width="1" height="51" fill="#c0c0c0"/>
<rect x="85" y="532" width="1" height="56" fill="#c0c0c0"/>
<rect x="93" y="524" width="1" height="64" fill="#c0c0c0"/>
<rect x="101" y="517" width="1" height="71" fill="#c0c0c0"/>
<rect x="109" y="516" width="1" height="72" fill="#c0c0c0"/>
<rect x="117" y="517" width="1" height="71" fill="#c0c0c0"/>
<rect x="125" y="519" width="1" height="69" fill="#c0c0c0"/>
<rect x="133" y="519" width="1" height="69" fill="#c0c0c0"/>
<rect x="141" y="520" width="1" height="68" fill="#c0c0c0"/>
<rect x="149" y="521" width="1" height="67" fill="#c0c0c0"/>
<rect x="157" y="524" width="1" height="64" fill="#c0c0c0"/>
<rect x="165" y="522" width="1" height="66" fill="#c0c0c0"/>
<rect x="173" y="519" width="1" height="69" fill="#c0c0c0"/>
<rect x="181" y="514" width="1" height="74" fill="#c0c0c0"/>
<rect x="189" y="516" width="1" height="72" fill="#c0c0c0"/>
<rect x="197" y="513" width="1" height="75" fill="#c0c0c0"/>
<rect x="205" y="509" width="1" height="79" fill="#c0c0c0"/>
<rect x="213" y="510" width="1" height="78" fill="#c0c0c0"/>
<rect x="221" y="518" width="1" height="70" fill="#c0c0c0"/>
<rect x="229" y="526" width="1" height="62" fill="#c0c0c0"/>
<rect x="237" y="532" width="1" height="56" fill="#c0c0c0"/>
<rect x="245" y="538" width="1" height="50" fill="#c0c0c0"/>
<rect x="253" y="549" width="1" height="39" fill="#c0c0c0"/>
<rect x="261" y="570" width="1" height="18" fill="#c0c0c0"/>
<rect x="269" y="586" width="1" height="2" fill="#c0c0c0"/>
<rect x="277" y="587" width="1" height="13" fill="#c0c0c0"/>
<rect x="285" y="587" width="1" height="22" fill="#c0c0c0"/>
<rect x="293" y="587" width="1" height="36" fill="#c0c0c0"/>
<rect x="301" y="587" width="1" height="46" fill="#c0c0c0"/>
<rect x="309" y="587" width="1" height="44" fill="#c0c0c0"/>
<rect x="317" y="587" width="1" height="37" fill="#c0c0c0"/>
<rect x="325" y="587" width="1" height="32" fill="#c0c0c0"/>
<rect x="333" y="587" width="1" height="25" fill="#c0c0c0"/>
<rect x="341" y="587" width="1" height="21" fill="#c0c0c0"/>
<rect x="349" y="587" width="1" height="21" fill="#c0c0c0"/>
<rect x="357" y="587" width="1" height="25" fill="#c0c0c0"/>
<rect x="365" y="587" width="1" height="27" fill="#c0c0c0"/>
<rect x="373" y="587" width="1" height="29" fill="#c0c0c0"/>
<rect x="381" y="587" width="1" height="32" fill="#c0c0c0"/>
<rect x="389" y="587" width="1" height="35" fill="#c0c0c0"/>
<rect x="397" y="587" width="1" height="36" fill="#c0c0c0"/>
<rect x="405" y="587" width="1" height="28" fill="#c0c0c0"/>
<rect x="413" y="587" width="1" height="21" fill="#c0c0c0"/>
<rect x="421" y="587" width="1" height="10" fill="#c0c0c0"/>
<rect x="429" y="587" width="1" height="1" fill="#c0c0c0"/>
<rect x="437" y="583" width="1" height="5" fill="#c0c0c0"/>
<rect x="445" y="581" width="1" height="7" fill="#c0c0c0"/>
<rect x="453" y="580" width="1" height="8" fill="#c0c0c0"/>
<rect x="461" y="576" width="1" height="12" fill="#c0c0c0"/>
<rect x="469" y="574" width="1" height="14" fill="#c0c0c0"/>
<rect x="477" y="571" width="1" height="17" fill="#c0c0c0"/>
<rect x="485" y="568" width="1" height="20" fill="#c0c0c0"/>
<rect x="493" y="562" width="1" height="26" fill="#c0c0c0"/>
<rect x="501" y="560" width="1" height="28" fill="#c0c0c0"/>
<rect x="509" y="560" width="1" height="28" fill="#c0c0c0"/>
<rect x="517" y="560" width="1" height="28" fill="#c0c0c0"/>
<rect x="525" y="563" width="1" height="25" fill="#c0c0c0"/>
<rect x="533" y="562" width="1" height="26" fill="#c0c0c0"/>
<rect x="541" y="559" width="1" height="29" fill="#c0c0c0"/>
<rect x="549" y="557" width="1" height="31" fill="#c0c0c0"/>
<rect x="557" y="555" width="1" height="33" fill="#c0c0c0"/>
<rect x="565" y="554" width="1" height="34" fill="#c0c0c0"/>
<rect x="573" y="554" width="1" height="34" fill="#c0c0c0"/>
<rect x="581" y="553" width="1" height="35" fill="#c0c0c0"/>
<rect x="589" y="555" width="1" height="33" fill="#c0c0c0"/>
<rect x="597" y="556" width="1" height="32" fill="#c0c0c0"/>
<rect x="605" y="557" width="1" height="31" fill="#c0c0c0"/>
<rect x="613" y="558" width="1" height="30" fill="#c0c0c0"/>
<rect x="621" y="558" width="1" height="30" fill="#c0c0c0"/>
<rect x="629" y="558" width="1" height="30" fill="#c0c0c0"/>
<rect x="637" y="555" width="1" height="33" fill="#c0c0c0"/>
<rect x="645" y="554" width="1" height="34" fill="#c0c0c0"/>
<rect x="653" y="556" width="1" height="32" fill="#c0c0c0"/>
<rect x="661" y="556" width="1" height="32" fill="#c0c0c0"/>
<rect x="669" y="556" width="1" height="32" fill="#c0c0c0"/>
<rect x="677" y="558" width="1" height="30" fill="#c0c0c0"/>
<rect x="685" y="562" width="1" height="26" fill="#c0c0c0"/>
<rect x="693" y="565" width="1" height="23" fill="#c0c0c0"/>
<rect x="701" y="563" width="1" height="25" fill="#c0c0c0"/>
<rect x="709" y="566" width="1" height="22" fill="#c0c0c0"/>
<rect x="717" y="569" width="1" height="19" fill="#c0c0c0"/>
<rect x="725" y="569" width="1" height="19" fill="#c0c0c0"/>
<rect x="733" y="570" width="1" height="18" fill="#c0c0c0"/>
<rect x="741" y="569" width="1" height="19" fill="#c0c0c0"/>
<rect x="749" y="570" width="1" height="18" fill="#c0c0c0"/>
<rect x="757" y="569" width="1" height="19" fill="#c0c0c0"/>
<rect x="765" y="568" width="1" height="20" fill="#c0c0c0"/>
<rect x="773" y="568" width="1" height="20" fill="#c0c0c0"/>
<rect x="781" y="568" width="1" height="20" fill="#c0c0c0"/>
<rect x="789" y="570" width="1" height="18" fill="#c0c0c0"/>
<rect x="797" y="578" width="1" height="10" fill="#c0c0c0"/>
<rect x="805" y="587" width="1" height="1" fill="#c0c0c0"/>
<rect x="813" y="587" width="1" height="6" fill="#c0c0c0"/>
<rect x="821" y="587" width="1" height="14" fill="#c0c0c0"/>
<rect x="829" y="587" width="1" height="21" fill="#c0c0c0"/>
<rect x="837" y="587" width="1" height="27" fill="#c0c0c0"/>
<rect x="845" y="587" width="1" height="22" fill="#c0c0c0"/>
<rect x="853" y="587" width="1" height="15" fill="#c0c0c0"/>
<rect x="861" y="587" width="1" height="9" fill="#c0c0c0"/>
<rect x="869" y="587" width="1" height="8" fill="#c0c0c0"/>
<rect x="877" y="587" width="1" height="7" fill="#c0c0c0"/>
<rect x="885" y="587" width="1" height="7" fill="#c0c0c0"/>
<rect x="893" y="587" width="1" height="6" fill="#c0c0c0"/>
<rect x="901" y="587" width="1" height="3" fill="#c0c0c0"/>
<rect x="909" y="587" width="1" height="6" fill="#c0c0c0"/>
<rect x="917" y="587" width="1" height="8" fill="#c0c0c0"/>
<rect x="925" y="587" width="1" height="16" fill="#c0c0c0"/>
<rect x="933" y="587" width="1" height="19" fill="#c0c0c0"/>
<rect x="941" y="587" width="1" height="18" fill="#c0c0c0"/>
<rect x="949" y="587" width="1" height="12" fill="#c0c0c0"/>
<rect x="957" y="587" width="1" height="8" fill="#c0c0c0"/>
<rect x="965" y="586" width="1" height="2" fill="#c0c0c0"/>
<rect x="973" y="586" width="1" height="2" fill="#c0c0c0"/>
<rect x="981" y="582" width="1" height="6" fill="#c0c0c0"/>
<rect x="989" y="576" width="1" height="12" fill="#c0c0c0"/>
<rect x="997" y="574" width="1" height="14" fill="#c0c0c0"/>
<rect x="1005" y="569" width="1" height="19" fill="#c0c0c0"/>
<rect x="1013" y="565" width="1" height="23" fill="#c0c0c0"/>
<rect x="1021" y="562" width="1" height="26" fill="#c0c0c0"/>
<rect x="1029" y="561" width="1" height="27" fill="#c0c0c0"/>
<rect x="1037" y="561" width="1" height="27" fill="#c0c0c0"/>
<rect x="1045" y="559" width="1" height="29" fill="#c0c0c0"/>
<rect x="1053" y="561" width="1" height="27" fill="#c0c0c0"/>
<rect x="1061" y="562" width="1" height="26" fill="#c0c0c0"/>
<rect x="1069" y="564" width="1" height="24" fill="#c0c0c0"/>
<rect x="1077" y="568" width="1" height="20" fill="#c0c0c0"/>
<rect x="1085" y="571" width="1" height="17" fill="#c0c0c0"/>
<rect x="1093" y="572" width="1" height="16" fill="#c0c0c0"/>
<rect x="1101" y="573" width="1" height="15" fill="#c0c0c0"/>
<rect x="1109" y="575" width="1" height="13" fill="#c0c0c0"/>
<rect x="1117" y="576" width="1" height="12" fill="#c0c0c0"/>
<rect x="1125" y="579" width="1" height="9" fill="#c0c0c0"/>
<rect x="1133" y="583" width="1" height="5" fill="#c0c0c0"/>
<rect x="1141" y="585" width="1" height="3" fill="#c0c0c0"/>
<rect x="1149" y="584" width="1" height="4" fill="#c0c0c0"/>
<rect x="1157" y="584" width="1" height="4" fill="#c0c0c0"/>
<rect x="1165" y="583" width="1" height="5" fill="#c0c0c0"/>
<rect x="1173" y="581" width="1" height="7" fill="#c0c0c0"/>
<rect x="1181" y="578" width="1" height="10" fill="#c0c0c0"/>
<rect x="1189" y="569" width="1" height="19" fill="#c0c0c0"/>
<rect x="1197" y="562" width="1" height="26" fill="#c0c0c0"/>
<rect x="1205" y="559" width="1" height="29" fill="#c0c0c0"/>
<rect x="1213" y="558" width="1" height="30" fill="#c0c0c0"/>
<rect x="1221" y="557" width="1" height="31" fill="#c0c0c0"/>
<rect x="1229" y="558" width="1" height="30" fill="#c0c0c0"/>
<rect x="1237" y="562" width="1" height="26" fill="#c0c0c0"/>
<rect x="1245" y="563" width="1" height="25" fill="#c0c0c0"/>
<rect x="1253" y="561" width="1" height="27" fill="#c0c0c0"/>
<rect x="1261" y="561" width="1" height="27" fill="#c0c0c0"/>
<rect x="1269" y="560" width="1" height="28" fill="#c0c0c0"/>
<rect x="1277" y="557" width="1" height="31" fill="#c0c0c0"/>
<rect x="1285" y="558" width="1" height="30" fill="#c0c0c0"/>
<rect x="1293" y="557" width="1" height="31" fill="#c0c0c0"/>
<rect x="1301" y="563" width="1" height="25" fill="#c0c0c0"/>
<rect x="1309" y="570" width="1" height="18" fill="#c0c0c0"/>
<rect x="1317" y="575" width="1" height="13" fill="#c0c0c0"/>
<rect x="1325" y="579" width="1" height="9" fill="#c0c0c0"/>
<rect x="1333" y="582" width="1" height="6" fill="#c0c0c0"/>
<rect x="1341" y="587" width="1" height="1" fill="#c0c0c0"/>
<rect x="1349" y="587" width="1" height="1" fill="#c0c0c0"/>
<rect x="1357" y="587" width="1" height="1" fill="#c0c0c0"/>
<rect x="1365" y="587" width="1" height="2" fill="#c0c0c0"/>
<rect x="1373" y="587" width="1" height="2" fill="#c0c0c0"/>
<rect x="1381" y="587" width="1" height="4" fill="#c0c0c0"/>
<rect x="1389" y="587" width="1" height="1" fill="#c0c0c0"/>
<rect x="1397" y="587" width="1" height="6" fill="#c0c0c0"/>
<rect x="1405" y="586" width="1" height="2" fill="#c0c0c0"/>
<rect x="1413" y="586" width="1" height="2" fill="#c0c0c0"/>
<rect x="1421" y="584" width="1" height="4" fill="#c0c0c0"/>
<rect x="1429" y="583" width="1" height="5" fill="#c0c0c0"/>
<rect x="1437" y="583" width="1" height="5" fill="#c0c0c0"/>
<rect x="1445" y="586" width="1" height="2" fill="#c0c0c0"/>
<rect x="1453" y="587" width="1" height="1" fill="#c0c0c0"/>
<rect x="1461" y="587" width="1" height="3" fill="#c0c0c0"/>
<rect x="1469" y="587" width="1" height="5" fill="#c0c0c0"/>
<rect x="1477" y="587" width="1" height="4" fill="#c0c0c0"/>
<rect x="1485" y="587" width="1" height="1" fill="#c0c0c0"/>
<rect x="1493" y="587" width="1" height="1" fill="#c0c0c0"/>
<rect x="1501" y="587" width="1" height="1" fill="#c0c0c0"/>
<rect x="1509" y="587" width="1" height="1" fill="#c0c0c0"/>
<rect x="1517" y="587" width="1" height="1" fill="#c0c0c0"/>
<rect x="1525" y="587" width="1" height="4" fill="#c0c0c0"/>
<rect x="1533" y="587" width="1" height="10" fill="#c0c0c0"/>
<rect x="1541" y="587" width="1" height="19" fill="#c0c0c0"/>
<rect x="1549" y="587" width="1" height="24" fill="#c0c0c0"/>
<rect x="1557" y="587" width="1" height="26" fill="#c0c0c0"/>
<rect x="1565" y="587" width="1" height="29" fill="#c0c0c0"/>
<rect x="1573" y="587" width="1" height="29" fill="#c0c0c0"/>
<rect x="1581" y="587" width="1" height="30" fill="#c0c0c0"/>
<rect x="1589" y="587" width="1" height="34" fill="#c0c0c0"/>
<rect x="1597" y="587" width="1" height="31" fill="#c0c0c0"/>
<rect x="1605" y="587" width="1" height="29" fill="#c0c0c0"/>
<rect x="1613" y="587" width="1" height="30" fill="#c0c0c0"/>
<rect x="1621" y="587" width="1" height="31" fill="#c0c0c0"/>
<rect x="1629" y="587" width="1" height="33" fill="#c0c0c0"/>
<rect x="1637" y="587" width="1" height="32" fill="#c0c0c0"/>
<rect x="1645" y="587" width="1" height="23" fill="#c0c0c0"/>
<rect x="1653" y="587" width="1" height="18" fill="#c0c0c0"/>
<rect x="1661" y="587" width="1" height="14" fill="#c0c0c0"/>
<rect x="1669" y="587" width="1" height="11" fill="#c0c0c0"/>
<polyline points="5.0,586.8 13.0,581.0 21.0,576.0 29.0,571.4 37.0,567.7 45.0,564.9 53.0,564.0 61.0,560.3 69.0,558.4 77.0,554.7 85.0,550.5 93.0,546.4 101.0,541.2 109.0,536.7 117.0,531.9 125.0,527.3 133.0,523.7 141.0,521.9 149.0,520.0 157.0,519.5 165.0,519.5 173.0,519.5 181.0,518.5 189.0,518.5 197.0,518.2 205.0,517.6 213.0,515.4 221.0,515.4 229.0,515.4 237.0,517.1 245.0,518.5 253.0,522.6 261.0,527.8 269.0,537.1 277.0,547.3 285.0,557.5 293.0,568.6 301.0,579.8 309.0,591.8 317.0,603.0 325.0,609.8 330.2,613.5 336.7,616.5 341.0,617.6 349.0,618.4 357.0,618.4 365.0,617.3 373.0,615.4 381.0,614.7 389.0,613.2 397.0,614.5 405.0,614.5 413.0,614.5 421.0,613.2 429.0,610.9 437.0,607.2 445.0,603.5 453.0,599.8 461.0,594.6 469.0,589.1 477.0,584.4 485.0,579.4 493.0,575.1 501.0,573.3 509.0,569.6 517.0,567.3 525.0,564.9 533.0,563.6 541.0,562.7 549.0,560.3 557.0,559.4 565.0,558.4 573.0,557.5 581.0,556.0 589.0,556.0 597.0,555.3 605.0,555.3 637.0,555.3 684.5,556.2 691.0,557.5 705.0,557.5 709.0,559.4 721.6,561.8 732.8,563.6 749.5,566.2 758.7,567.7 773.6,568.3 799.6,569.2 805.1,571.0 812.5,574.6 821.8,577.0 829.2,581.0 836.9,585.7 844.8,590.9 852.8,595.0 860.8,597.8 868.8,600.2 876.9,600.4 892.9,600.4 900.9,598.3 908.8,596.1 916.8,594.6 924.8,594.6 932.8,595.5 940.8,596.5 948.9,597.4 960.0,597.2 973.0,596.5 984.1,594.6 997.0,589.6 1005.0,585.7 1013.0,581.0 1021.0,577.0 1029.0,573.3 1037.0,570.5 1045.0,566.8 1053.0,564.9 1061.0,563.5 1069.0,562.7 1086.2,562.5 1097.3,564.0 1112.2,566.2 1117.7,568.6 1127.0,570.5 1134.4,572.9 1141.8,575.1 1153.0,577.9 1164.1,579.4 1172.8,580.7 1190.0,580.3 1197.0,578.3 1205.0,575.7 1213.0,572.4 1221.0,570.1 1229.0,566.4 1237.0,564.4 1245.0,562.2 1253.0,560.3 1261.0,559.4 1304.0,559.4 1313.4,560.7 1326.4,564.0 1333.0,566.4 1341.0,569.6 1349.0,572.4 1357.0,576.1 1365.0,579.4 1373.0,581.6 1381.0,585.3 1389.0,586.8 1397.0,588.7 1405.0,589.4 1421.0,588.5 1437.0,587.2 1445.0,586.3 1480.4,586.3 1485.0,587.2 1501.0,587.8 1517.0,589.4 1525.0,589.4 1533.0,590.5 1541.0,591.0 1549.0,594.6 1557.0,595.8 1565.0,598.1 1573.0,602.2 1581.0,605.2 1589.0,608.7 1597.0,612.3 1605.0,613.7 1613.0,615.3 1621.0,616.3 1629.0,617.4 1637.0,617.4 1645.0,616.3 1653.0,615.3 1661.0,612.3 1669.0,610.5" fill="none" stroke="#FF0000" stroke-width="1" stroke-dasharray="3 3"/>
</g>
<g clip-path="url(#cr)" shape-rendering="crispEdges">
<line x1="5" y1="680.5" x2="1690" y2="680.5" stroke="#c0c0c0" stroke-dasharray="3 3"/>
<line x1="5" y1="731.5" x2="1690" y2="731.5" stroke="#c0c0c0" stroke-dasharray="3 3"/>
<polyline points="5.2,700.5 13.4,700.5 21.7,698.0 29.9,700.5 37.4,700.5 45.7,695.7 53.7,694.3 61.8,689.5 70.0,688.0 77.7,684.5 85.4,685.5 93.5,680.3 101.3,679.2 109.4,687.0 117.5,688.6 125.7,690.5 133.8,687.2 141.6,688.4 149.7,687.2 157.4,692.2 165.5,684.5 173.3,681.1 181.4,679.2 189.6,688.4 197.7,683.8 205.4,679.3 213.4,688.9 221.3,698.0 229.4,701.4 237.4,700.5 245.3,701.4 253.4,709.1 261.4,725.0 269.3,725.4 277.4,724.1 285.4,725.4 293.7,730.2 301.7,729.3 309.4,712.0 316.7,705.6 325.0,705.1 333.0,703.2 341.0,704.9 349.0,708.6 357.7,717.5 365.0,714.4 373.8,714.4 381.8,718.4 389.6,719.7 397.0,718.4 405.3,701.2 413.0,700.3 421.0,694.5 429.5,694.1 436.9,697.5 444.9,699.0 453.0,703.6 461.4,696.2 469.4,699.5 477.0,696.4 485.0,694.3 493.5,690.1 501.8,694.3 509.2,696.2 517.2,697.5 525.6,702.7 533.4,696.2 541.7,691.5 549.5,693.8 557.0,691.5 576.0,691.5 581.2,690.1 589.0,694.0 596.8,695.6 604.8,693.8 613.1,693.4 620.8,690.2 628.9,688.2 637.3,681.3 645.0,691.5 662.3,691.5 669.0,688.2 677.0,696.2 685.5,704.5 693.8,699.9 701.6,691.5 709.6,703.6 718.0,702.7 725.0,699.5 733.7,698.4 741.5,695.2 749.5,699.5 756.9,694.0 764.9,692.5 773.0,694.0 781.4,700.4 789.5,696.4 797.3,718.4 805.5,724.4 813.5,719.4 821.8,725.3 829.2,728.6 837.2,728.6 845.6,703.0 852.8,699.5 860.8,698.4 869.5,706.4 876.9,704.2 885.8,708.6 893.2,706.4 901.6,699.3 909.4,713.4 916.8,714.4 925.3,719.4 933.1,715.3 941.5,709.2 949.3,699.3 957.3,702.3 965.0,699.3 973.9,699.3 981.0,696.4 989.3,693.4 997.7,697.1 1005.5,691.5 1012.9,690.1 1021.2,693.4 1032.4,693.4 1037.9,694.3 1045.3,691.5 1053.7,698.4 1064.8,698.4 1069.5,699.5 1077.8,707.3 1086.2,705.1 1094.0,700.4 1101.9,703.6 1111.2,703.6 1117.3,702.3 1126.0,709.7 1133.5,712.5 1141.4,710.1 1149.6,702.7 1157.2,701.2 1165.6,699.9 1173.4,697.1 1181.7,691.5 1189.5,677.6 1197.5,677.3 1205.8,685.0 1213.6,691.5 1221.2,689.3 1229.4,692.5 1237.4,703.0 1245.7,697.1 1253.5,691.5 1261.5,695.2 1269.3,690.6 1276.9,687.5 1285.6,695.2 1293.0,692.5 1301.0,708.2 1309.3,711.6 1317.7,710.1 1325.5,711.6 1333.4,709.2 1341.6,717.5 1349.6,707.7 1357.0,706.4 1365.3,709.7 1373.7,706.4 1381.5,708.6 1389.5,699.3 1397.4,716.2 1405.2,700.4 1413.0,699.3 1421.4,702.3 1429.5,703.6 1437.7,704.5 1446.0,708.6 1453.8,712.5 1461.8,709.5 1469.2,710.5 1477.2,705.5 1485.6,702.3 1493.4,705.5 1500.8,706.4 1517.5,706.4 1525.8,715.7 1533.6,720.3 1541.6,728.3 1549.4,723.6 1557.4,720.3 1565.3,723.6 1573.5,717.5 1581.5,719.4 1589.3,725.3 1597.3,712.3 1605.1,711.4 1613.7,716.4 1621.4,719.2 1629.1,722.5 1637.3,715.4 1645.8,698.1 1654.0,702.4 1661.7,703.3 1669.0,704.7" fill="none" stroke="#1E90FF" stroke-width="1" />
</g>
<g shape-rendering="crispEdges">
<rect x="1691" y="33" width="2" height="1" fill="#000"/>
<rect x="1691" y="66" width="2" height="1" fill="#000"/>
<rect x="1691" y="99" width="2" height="1" fill="#000"/>
<rect x="1691" y="132" width="2" height="1" fill="#000"/>
<rect x="1691" y="165" width="2" height="1" fill="#000"/>
<rect x="1691" y="231" width="2" height="1" fill="#000"/>
<rect x="1691" y="264" width="2" height="1" fill="#000"/>
<rect x="1691" y="297" width="2" height="1" fill="#000"/>
<rect x="1691" y="330" width="2" height="1" fill="#000"/>
<rect x="1691" y="363" width="2" height="1" fill="#000"/>
<rect x="1691" y="396" width="2" height="1" fill="#000"/>
<rect x="1691" y="429" width="2" height="1" fill="#000"/>
<rect x="1691" y="462" width="2" height="1" fill="#000"/>
<rect x="1691" y="495" width="2" height="1" fill="#000"/>
<rect x="1691" y="502" width="1" height="1" fill="#000"/>
<rect x="1691" y="587" width="1" height="1" fill="#000"/>
<rect x="1691" y="638" width="1" height="1" fill="#000"/>
<rect x="1691" y="642" width="1" height="1" fill="#000"/>
<rect x="1691" y="680" width="1" height="1" fill="#000"/>
<rect x="1691" y="731" width="1" height="1" fill="#000"/>
<rect x="1691" y="768" width="1" height="1" fill="#000"/>
<rect x="5" y="770" width="1" height="3" fill="#000"/>
<rect x="69" y="770" width="1" height="3" fill="#000"/>
<rect x="133" y="770" width="1" height="3" fill="#000"/>
<rect x="197" y="770" width="1" height="3" fill="#000"/>
<rect x="261" y="770" width="1" height="3" fill="#000"/>
<rect x="325" y="770" width="1" height="3" fill="#000"/>
<rect x="389" y="770" width="1" height="3" fill="#000"/>
<rect x="453" y="770" width="1" height="3" fill="#000"/>
<rect x="517" y="770" width="1" height="3" fill="#000"/>
<rect x="581" y="770" width="1" height="3" fill="#000"/>
<rect x="645" y="770" width="1" height="3" fill="#000"/>
<rect x="709" y="770" width="1" height="3" fill="#000"/>
<rect x="773" y="770" width="1" height="3" fill="#000"/>
<rect x="837" y="770" width="1" height="3" fill="#000"/>
<rect x="901" y="770" width="1" height="3" fill="#000"/>
<rect x="965" y="770" width="1" height="3" fill="#000"/>
<rect x="1029" y="770" width="1" height="3" fill="#000"/>
<rect x="1093" y="770" width="1" height="3" fill="#000"/>
<rect x="1157" y="770" width="1" height="3" fill="#000"/>
<rect x="1221" y="770" width="1" height="3" fill="#000"/>
<rect x="1285" y="770" width="1" height="3" fill="#000"/>
<rect x="1349" y="770" width="1" height="3" fill="#000"/>
<rect x="1413" y="770" width="1" height="3" fill="#000"/>
<rect x="1477" y="770" width="1" height="3" fill="#000"/>
<rect x="1541" y="770" width="1" height="3" fill="#000"/>
<rect x="1605" y="770" width="1" height="3" fill="#000"/>
<rect x="1669" y="770" width="1" height="3" fill="#000"/>
</g>
<text x="1696" y="37" font-size="10.2" fill="#000" stroke="#000" stroke-width="0.15" text-rendering="geometricPrecision" textLength="28" lengthAdjust="spacingAndGlyphs">42.720</text>
<text x="1696" y="70" font-size="10.2" fill="#000" stroke="#000" stroke-width="0.15" text-rendering="geometricPrecision" textLength="28" lengthAdjust="spacingAndGlyphs">42.300</text>
<text x="1696" y="103" font-size="10.2" fill="#000" stroke="#000" stroke-width="0.15" text-rendering="geometricPrecision" textLength="28" lengthAdjust="spacingAndGlyphs">41.890</text>
<text x="1696" y="136" font-size="10.2" fill="#000" stroke="#000" stroke-width="0.15" text-rendering="geometricPrecision" textLength="28" lengthAdjust="spacingAndGlyphs">41.480</text>
<text x="1696" y="169" font-size="10.2" fill="#000" stroke="#000" stroke-width="0.15" text-rendering="geometricPrecision" textLength="28" lengthAdjust="spacingAndGlyphs">41.070</text>
<text x="1696" y="235" font-size="10.2" fill="#000" stroke="#000" stroke-width="0.15" text-rendering="geometricPrecision" textLength="28" lengthAdjust="spacingAndGlyphs">40.240</text>
<text x="1696" y="268" font-size="10.2" fill="#000" stroke="#000" stroke-width="0.15" text-rendering="geometricPrecision" textLength="28" lengthAdjust="spacingAndGlyphs">39.830</text>
<text x="1696" y="301" font-size="10.2" fill="#000" stroke="#000" stroke-width="0.15" text-rendering="geometricPrecision" textLength="28" lengthAdjust="spacingAndGlyphs">39.420</text>
<text x="1696" y="334" font-size="10.2" fill="#000" stroke="#000" stroke-width="0.15" text-rendering="geometricPrecision" textLength="28" lengthAdjust="spacingAndGlyphs">39.010</text>
<text x="1696" y="367" font-size="10.2" fill="#000" stroke="#000" stroke-width="0.15" text-rendering="geometricPrecision" textLength="28" lengthAdjust="spacingAndGlyphs">38.600</text>
<text x="1696" y="400" font-size="10.2" fill="#000" stroke="#000" stroke-width="0.15" text-rendering="geometricPrecision" textLength="28" lengthAdjust="spacingAndGlyphs">38.190</text>
<text x="1696" y="433" font-size="10.2" fill="#000" stroke="#000" stroke-width="0.15" text-rendering="geometricPrecision" textLength="28" lengthAdjust="spacingAndGlyphs">37.770</text>
<text x="1696" y="466" font-size="10.2" fill="#000" stroke="#000" stroke-width="0.15" text-rendering="geometricPrecision" textLength="28" lengthAdjust="spacingAndGlyphs">37.360</text>
<text x="1696" y="499" font-size="10.2" fill="#000" stroke="#000" stroke-width="0.15" text-rendering="geometricPrecision" textLength="28" lengthAdjust="spacingAndGlyphs">36.950</text>
<g shape-rendering="crispEdges">
<rect x="1692" y="165" width="33" height="11" fill="#FF0000"/>
<rect x="1692" y="191" width="33" height="11" fill="#000"/>
<rect x="1692" y="285" width="33" height="11" fill="#1FC51F"/>
<rect x="1692" y="365" width="33" height="11" fill="#4169E1"/>
<rect x="1692" y="485" width="33" height="11" fill="#4169E1"/>
</g>
<text x="1696" y="174" font-size="10.2" fill="#fff" stroke="#fff" stroke-width="0.15" text-rendering="geometricPrecision" textLength="28" lengthAdjust="spacingAndGlyphs">41.000</text>
<text x="1696" y="200" font-size="10.2" fill="#fff" stroke="#fff" stroke-width="0.15" text-rendering="geometricPrecision" textLength="28" lengthAdjust="spacingAndGlyphs">40.680</text>
<text x="1696" y="294" font-size="10.2" fill="#fff" stroke="#fff" stroke-width="0.15" text-rendering="geometricPrecision" textLength="28" lengthAdjust="spacingAndGlyphs">39.500</text>
<text x="1696" y="374" font-size="10.2" fill="#fff" stroke="#fff" stroke-width="0.15" text-rendering="geometricPrecision" textLength="28" lengthAdjust="spacingAndGlyphs">38.500</text>
<text x="1696" y="494" font-size="10.2" fill="#fff" stroke="#fff" stroke-width="0.15" text-rendering="geometricPrecision" textLength="28" lengthAdjust="spacingAndGlyphs">37.000</text>
<text x="1694" y="511" font-size="10.2" fill="#000" stroke="#000" stroke-width="0.15" text-rendering="geometricPrecision" textLength="28" lengthAdjust="spacingAndGlyphs">0.8467</text>
<text x="1694.3" y="591" font-size="10.2" fill="#000" stroke="#000" stroke-width="0.15" text-rendering="geometricPrecision" textLength="17" lengthAdjust="spacingAndGlyphs">0.00</text>
<text x="1694.3" y="636" font-size="10.2" fill="#000" stroke="#000" stroke-width="0.15" text-rendering="geometricPrecision" textLength="30" lengthAdjust="spacingAndGlyphs">-0.5072</text>
<text x="1694.6" y="652" font-size="10.2" fill="#000" stroke="#000" stroke-width="0.15" text-rendering="geometricPrecision" textLength="14.8" lengthAdjust="spacingAndGlyphs">100</text>
<text x="1694" y="684" font-size="10.2" fill="#000" stroke="#000" stroke-width="0.15" text-rendering="geometricPrecision" textLength="10.5" lengthAdjust="spacingAndGlyphs">70</text>
<text x="1694" y="735" font-size="10.2" fill="#000" stroke="#000" stroke-width="0.15" text-rendering="geometricPrecision" textLength="10.5" lengthAdjust="spacingAndGlyphs">30</text>
<text x="1694" y="766" font-size="10.2" fill="#000" stroke="#000" stroke-width="0.15" text-rendering="geometricPrecision" textLength="5.4" lengthAdjust="spacingAndGlyphs">0</text>
<text x="4.7" y="782" font-size="10.2" fill="#000" stroke="#000" stroke-width="0.15" text-rendering="geometricPrecision" textLength="49.8" lengthAdjust="spacingAndGlyphs">17 Jun 2020</text>
<text x="68.7" y="782" font-size="10.2" fill="#000" stroke="#000" stroke-width="0.15" text-rendering="geometricPrecision" textLength="52.3" lengthAdjust="spacingAndGlyphs">18 Jun 16:00</text>
<text x="132.7" y="782" font-size="10.2" fill="#000" stroke="#000" stroke-width="0.15" text-rendering="geometricPrecision" textLength="52.3" lengthAdjust="spacingAndGlyphs">21 Jun 23:00</text>
<text x="196.7" y="782" font-size="10.2" fill="#000" stroke="#000" stroke-width="0.15" text-rendering="geometricPrecision" textLength="52.3" lengthAdjust="spacingAndGlyphs">23 Jun 04:00</text>
<text x="260.7" y="782" font-size="10.2" fill="#000" stroke="#000" stroke-width="0.15" text-rendering="geometricPrecision" textLength="52.3" lengthAdjust="spacingAndGlyphs">24 Jun 12:00</text>
<text x="324.7" y="782" font-size="10.2" fill="#000" stroke="#000" stroke-width="0.15" text-rendering="geometricPrecision" textLength="52.3" lengthAdjust="spacingAndGlyphs">25 Jun 20:00</text>
<text x="388.7" y="782" font-size="10.2" fill="#000" stroke="#000" stroke-width="0.15" text-rendering="geometricPrecision" textLength="52.3" lengthAdjust="spacingAndGlyphs">29 Jun 00:00</text>
<text x="452.7" y="782" font-size="10.2" fill="#000" stroke="#000" stroke-width="0.15" text-rendering="geometricPrecision" textLength="52.3" lengthAdjust="spacingAndGlyphs">30 Jun 08:00</text>
<text x="516.7" y="782" font-size="10.2" fill="#000" stroke="#000" stroke-width="0.15" text-rendering="geometricPrecision" textLength="44.3" lengthAdjust="spacingAndGlyphs">1 Jul 16:00</text>
<text x="580.7" y="782" font-size="10.2" fill="#000" stroke="#000" stroke-width="0.15" text-rendering="geometricPrecision" textLength="44.3" lengthAdjust="spacingAndGlyphs">3 Jul 00:00</text>
<text x="644.7" y="782" font-size="10.2" fill="#000" stroke="#000" stroke-width="0.15" text-rendering="geometricPrecision" textLength="44.3" lengthAdjust="spacingAndGlyphs">6 Jul 08:00</text>
<text x="708.7" y="782" font-size="10.2" fill="#000" stroke="#000" stroke-width="0.15" text-rendering="geometricPrecision" textLength="44.3" lengthAdjust="spacingAndGlyphs">7 Jul 16:00</text>
<text x="772.7" y="782" font-size="10.2" fill="#000" stroke="#000" stroke-width="0.15" text-rendering="geometricPrecision" textLength="44.3" lengthAdjust="spacingAndGlyphs">9 Jul 00:00</text>
<text x="836.7" y="782" font-size="10.2" fill="#000" stroke="#000" stroke-width="0.15" text-rendering="geometricPrecision" textLength="49.3" lengthAdjust="spacingAndGlyphs">10 Jul 08:00</text>
<text x="900.7" y="782" font-size="10.2" fill="#000" stroke="#000" stroke-width="0.15" text-rendering="geometricPrecision" textLength="49.3" lengthAdjust="spacingAndGlyphs">13 Jul 12:00</text>
<text x="964.7" y="782" font-size="10.2" fill="#000" stroke="#000" stroke-width="0.15" text-rendering="geometricPrecision" textLength="49.3" lengthAdjust="spacingAndGlyphs">14 Jul 20:00</text>
<text x="1028.7" y="782" font-size="10.2" fill="#000" stroke="#000" stroke-width="0.15" text-rendering="geometricPrecision" textLength="49.3" lengthAdjust="spacingAndGlyphs">16 Jul 04:00</text>
<text x="1092.7" y="782" font-size="10.2" fill="#000" stroke="#000" stroke-width="0.15" text-rendering="geometricPrecision" textLength="49.3" lengthAdjust="spacingAndGlyphs">17 Jul 12:00</text>
<text x="1156.7" y="782" font-size="10.2" fill="#000" stroke="#000" stroke-width="0.15" text-rendering="geometricPrecision" textLength="49.3" lengthAdjust="spacingAndGlyphs">20 Jul 16:00</text>
<text x="1220.7" y="782" font-size="10.2" fill="#000" stroke="#000" stroke-width="0.15" text-rendering="geometricPrecision" textLength="49.3" lengthAdjust="spacingAndGlyphs">22 Jul 00:00</text>
<text x="1284.7" y="782" font-size="10.2" fill="#000" stroke="#000" stroke-width="0.15" text-rendering="geometricPrecision" textLength="49.3" lengthAdjust="spacingAndGlyphs">23 Jul 08:00</text>
<text x="1348.7" y="782" font-size="10.2" fill="#000" stroke="#000" stroke-width="0.15" text-rendering="geometricPrecision" textLength="49.3" lengthAdjust="spacingAndGlyphs">24 Jul 16:00</text>
<text x="1412.7" y="782" font-size="10.2" fill="#000" stroke="#000" stroke-width="0.15" text-rendering="geometricPrecision" textLength="49.3" lengthAdjust="spacingAndGlyphs">27 Jul 20:00</text>
<text x="1476.7" y="782" font-size="10.2" fill="#000" stroke="#000" stroke-width="0.15" text-rendering="geometricPrecision" textLength="49.3" lengthAdjust="spacingAndGlyphs">29 Jul 04:00</text>
<text x="1540.7" y="782" font-size="10.2" fill="#000" stroke="#000" stroke-width="0.15" text-rendering="geometricPrecision" textLength="49.3" lengthAdjust="spacingAndGlyphs">30 Jul 12:00</text>
<text x="1604.7" y="782" font-size="10.2" fill="#000" stroke="#000" stroke-width="0.15" text-rendering="geometricPrecision" textLength="49.3" lengthAdjust="spacingAndGlyphs">31 Jul 20:00</text>
<text x="1668.7" y="782" font-size="10.2" fill="#000" stroke="#000" stroke-width="0.15" text-rendering="geometricPrecision" textLength="48.8" lengthAdjust="spacingAndGlyphs">3 Aug 22:00</text>
<path d="M8 35 L15 35 L11.5 38.6 Z" fill="#000"/>
<text x="20.3" y="40" font-size="10.2" fill="#000" stroke="#000" stroke-width="0.15" text-rendering="geometricPrecision" textLength="42.9" lengthAdjust="spacingAndGlyphs">USOil-,H4</text>
<text x="69" y="40" font-size="10.2" fill="#000" stroke="#000" stroke-width="0.15" text-rendering="geometricPrecision" textLength="120.6" lengthAdjust="spacingAndGlyphs">40.730 40.740 40.610 40.680</text>
<text x="9" y="513" font-size="10.2" fill="#000" stroke="#000" stroke-width="0.15" text-rendering="geometricPrecision" textLength="134" lengthAdjust="spacingAndGlyphs">MACD(12,26,9) -0.0965 -0.2278</text>
<text x="9" y="654" font-size="10.2" fill="#000" stroke="#000" stroke-width="0.15" text-rendering="geometricPrecision" textLength="68" lengthAdjust="spacingAndGlyphs">RSI(14) 51.4706</text>
<g fill="none" stroke="#ED1C24" stroke-width="2.6" stroke-linecap="butt" stroke-linejoin="miter" stroke-miterlimit="2">
<path d="M1310.9 410.3 L1297 421"/>
<path d="M1307 415.5 L1325.5 415.5 Q1318 423.5 1295.9 429.4"/>
<path d="M1305.7 419.7 L1310.2 423.8"/>
<path d="M1317.1 424.9 L1298 436.3"/>
<path d="M1313.3 428 L1327.6 428 Q1320 441 1296.6 444"/>
<path d="M1309.8 434.6 L1313.7 438.1"/>
<path d="M1346.3 410.6 L1348.8 414.4"/>
<path d="M1333.1 421.4 L1333.1 416 L1362.7 416 L1362.7 421.4"/>
<path d="M1344.3 420.1 L1331.7 428.7"/>
<path d="M1351.9 420.1 L1364.1 428.7"/>
<path d="M1335.6 429.9 L1360.3 429.9"/>
<path d="M1348.3 429.9 L1348.3 441.9"/>
<path d="M1331.7 441.9 L1364.1 441.9"/>
<path d="M1366.9 416.9 L1381.5 416.9"/>
<path d="M1373.8 410.3 L1367.9 428.3 L1381.8 428.3"/>
<path d="M1375.8 420.7 L1375.8 444.7"/>
<path d="M1366.5 437.4 L1381.8 434.6"/>
<path d="M1383.6 416.9 L1399.9 416.9"/>
<path d="M1382.2 423.8 L1401.3 423.8"/>
<path d="M1390.5 410.3 L1386.3 430.3 L1399.2 430.3 L1393 440.2"/>
<path d="M1384.6 435.7 L1396.1 444"/>
<path d="M1403 418.6 L1414.8 418.6"/>
<path d="M1409.1 410.6 L1409.1 443.3 L1403.3 443.3"/>
<path d="M1402.7 430.8 L1414.1 426.6"/>
<path d="M1436 412.7 L1418.3 414.4 L1418.3 428.3 Q1418 438 1413.4 444.3"/>
<path d="M1418.3 424.9 L1437.1 424.9"/>
<path d="M1429.6 424.9 L1429.6 444.7"/>
<path d="M1455.4 410.3 L1455.4 422"/>
<path d="M1455.4 415.8 L1472.6 415.8"/>
<path d="M1444.5 433.6 L1444.5 422.2 L1468.3 422.2 L1468.3 433.6"/>
<path d="M1444.5 431.8 L1468.3 431.8"/>
<path d="M1444 436.3 L1439.9 443.7"/>
<path d="M1450.3 436.3 L1452.7 443.3"/>
<path d="M1459 436 L1461.8 443.3"/>
<path d="M1467.3 436 L1471.9 443.7"/>
</g>
<text x="1474.3" y="0" font-size="37" fill="#ED1C24" transform="translate(0,441.2) scale(1,1.13)">39.5</text>
</svg></body></html>
